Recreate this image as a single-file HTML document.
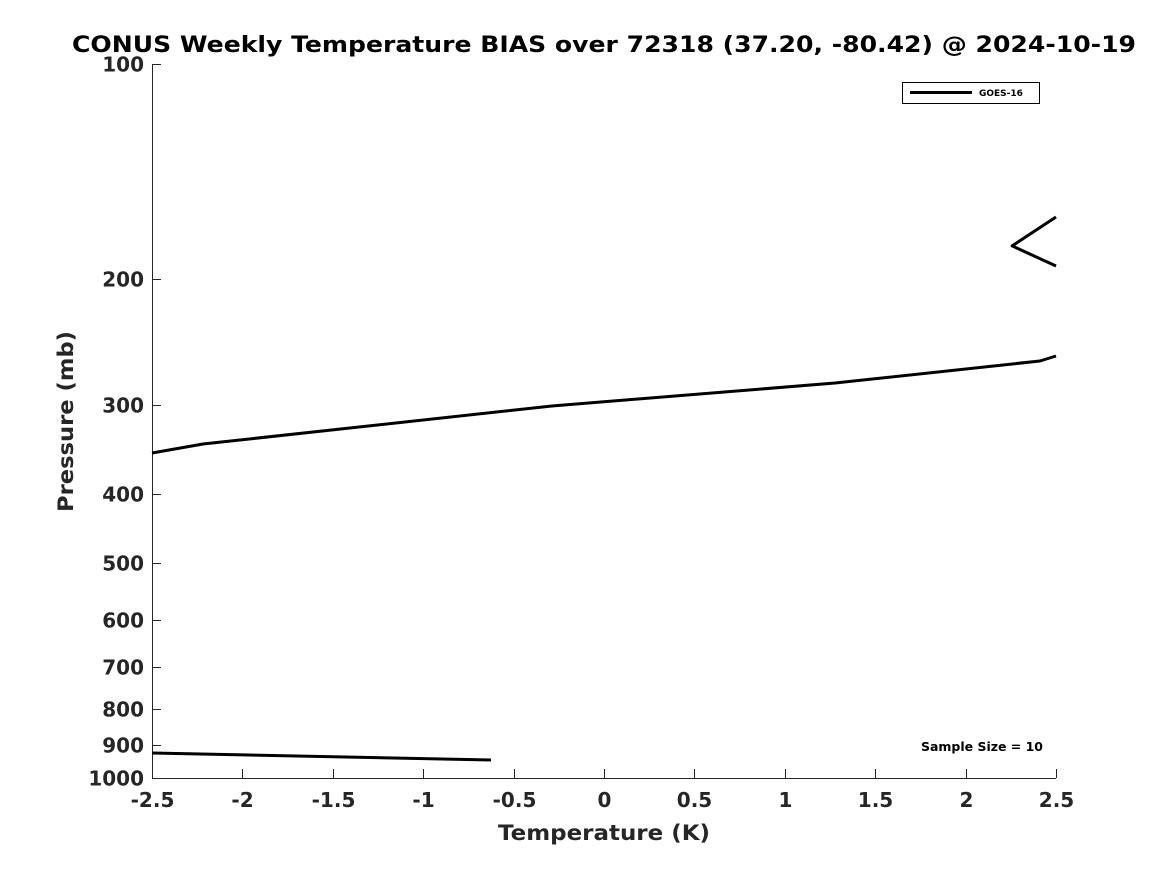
<!DOCTYPE html>
<html><head><meta charset="utf-8"><style>
body{margin:0;background:#fff;}
svg text{font-family:"DejaVu Sans","Liberation Sans",sans-serif;font-weight:bold;}
</style></head><body>
<svg id="chart" width="1167" height="875" xmlns="http://www.w3.org/2000/svg">
<rect width="1167" height="875" fill="#fff"/>
<text x="72" y="52" font-size="22" textLength="1064" lengthAdjust="spacingAndGlyphs" fill="#000">CONUS Weekly Temperature BIAS over 72318 (37.20, -80.42) @ 2024-10-19</text>
<g id="axes"></g>
<g id="lines"></g>
<g>
<rect x="902.5" y="82.5" width="137" height="21" fill="#fff" stroke="#000" stroke-width="1"/>
<line x1="910" y1="92.5" x2="972" y2="92.5" stroke="#000" stroke-width="3"/>
<text x="979" y="96" font-size="9" fill="#000">GOES-16</text>
</g>
<text x="921" y="751" font-size="12" textLength="122" lengthAdjust="spacingAndGlyphs" fill="#000">Sample Size = 10</text>
<text x="498" y="840" font-size="21" textLength="212" lengthAdjust="spacingAndGlyphs" fill="#262626">Temperature (K)</text>
<text transform="translate(73,512) rotate(-90)" font-size="21" textLength="181" lengthAdjust="spacingAndGlyphs" fill="#262626">Pressure (mb)</text>
</svg>
<script>
const xTicks=[-2.5,-2,-1.5,-1,-0.5,0,0.5,1,1.5,2,2.5];
const yTicks=[100,200,300,400,500,600,700,800,900,1000];
const seg1T=[-2.5,-2.218,-0.288,1.278,2.411,2.5];
const seg1P=[350.6,340.6,301.3,279.8,260.6,256.4];
const seg2T=[2.5,2.257,2.5];
const seg2P=[163.8,179.8,191.8];
const seg3T=[-2.5,-0.625];
const seg3P=[922.6,943.6];
const L=152,R=1056,T=64,B=778;
function xs(v){return L+(v+2.5)/5*(R-L);}
function ys(p){return T+(Math.log10(p)-2)*(B-T);}
const NS="http://www.w3.org/2000/svg";
const ax=document.getElementById('axes');
function mk(tag,attrs,parent){const e=document.createElementNS(NS,tag);for(const k in attrs)e.setAttribute(k,attrs[k]);parent.appendChild(e);return e;}
const yl=mk('line',{x1:L+.5,y1:T,x2:L+.5,y2:B,stroke:'#262626','stroke-width':1},ax);


const xl=mk('line',{x1:L,y1:B+.5,x2:R,y2:B+.5,stroke:'#262626','stroke-width':1},ax);


xTicks.forEach(v=>{const x=Math.round(xs(v))+.5;
mk('line',{x1:x,y1:B,x2:x,y2:B-9,stroke:'#262626'},ax);
const t=mk('text',{x:x,y:B+29,'font-size':20,'text-anchor':'middle',fill:'#262626'},ax);
t.textContent=String(v);

});
yTicks.forEach(v=>{const y=Math.round(ys(v))+.5;
mk('line',{x1:L,y1:y,x2:L+9,y2:y,stroke:'#262626'},ax);
const t=mk('text',{x:L-8,y:y+7,'font-size':20,'text-anchor':'end',fill:'#262626'},ax);
t.textContent=String(v);

});
const lg=document.getElementById('lines');
[[seg1T,seg1P],[seg2T,seg2P],[seg3T,seg3P]].forEach((s,i)=>{
const pts=s[0].map((t,j)=>xs(t).toFixed(1)+','+ys(s[1][j]).toFixed(1)).join(' ');
const pl=mk('polyline',{points:pts,fill:'none',stroke:'#000','stroke-width':3,'stroke-linejoin':'round'},lg);

});
</script>
</body></html>
